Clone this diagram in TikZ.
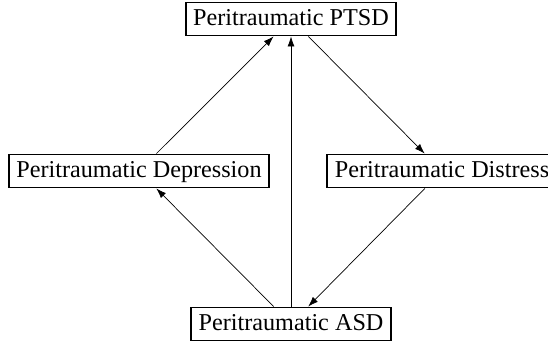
\documentclass[tikz,border=0pt]{standalone}
\usepackage{fontspec}
\setmainfont{Liberation Serif}
\usetikzlibrary{arrows.meta}

\begin{document}
\begin{tikzpicture}[x=1pt, y=-1pt,
    box/.style={draw, line width=1.9pt, inner xsep=7.5pt, inner ysep=5pt, minimum height=33pt,
        text height=17pt, text depth=4pt, font=\fontsize{24.2pt}{28pt}\selectfont},
    link/.style={-{Latex[length=10pt, width=7pt]}, line width=0.7pt}]
    \useasboundingbox (0,0) rectangle (548,343);

    % Nodes
    \node[box] (ptsd) at (291, 19) {Peritraumatic PTSD};
    \node[box] (dep) at (139, 171) {Peritraumatic Depression};
    \node[box] (dis) at (442, 171) {Peritraumatic Distress};
    \node[box] (asd) at (291, 324) {Peritraumatic ASD};

    % Edges
    \draw[link] (dep) -- (ptsd);
    \draw[link] (ptsd) -- (dis);
    \draw[link] (asd) -- (ptsd);
    \draw[link] (asd) -- (dep);
    \draw[link] (dis) -- (asd);
\end{tikzpicture}
\end{document}
